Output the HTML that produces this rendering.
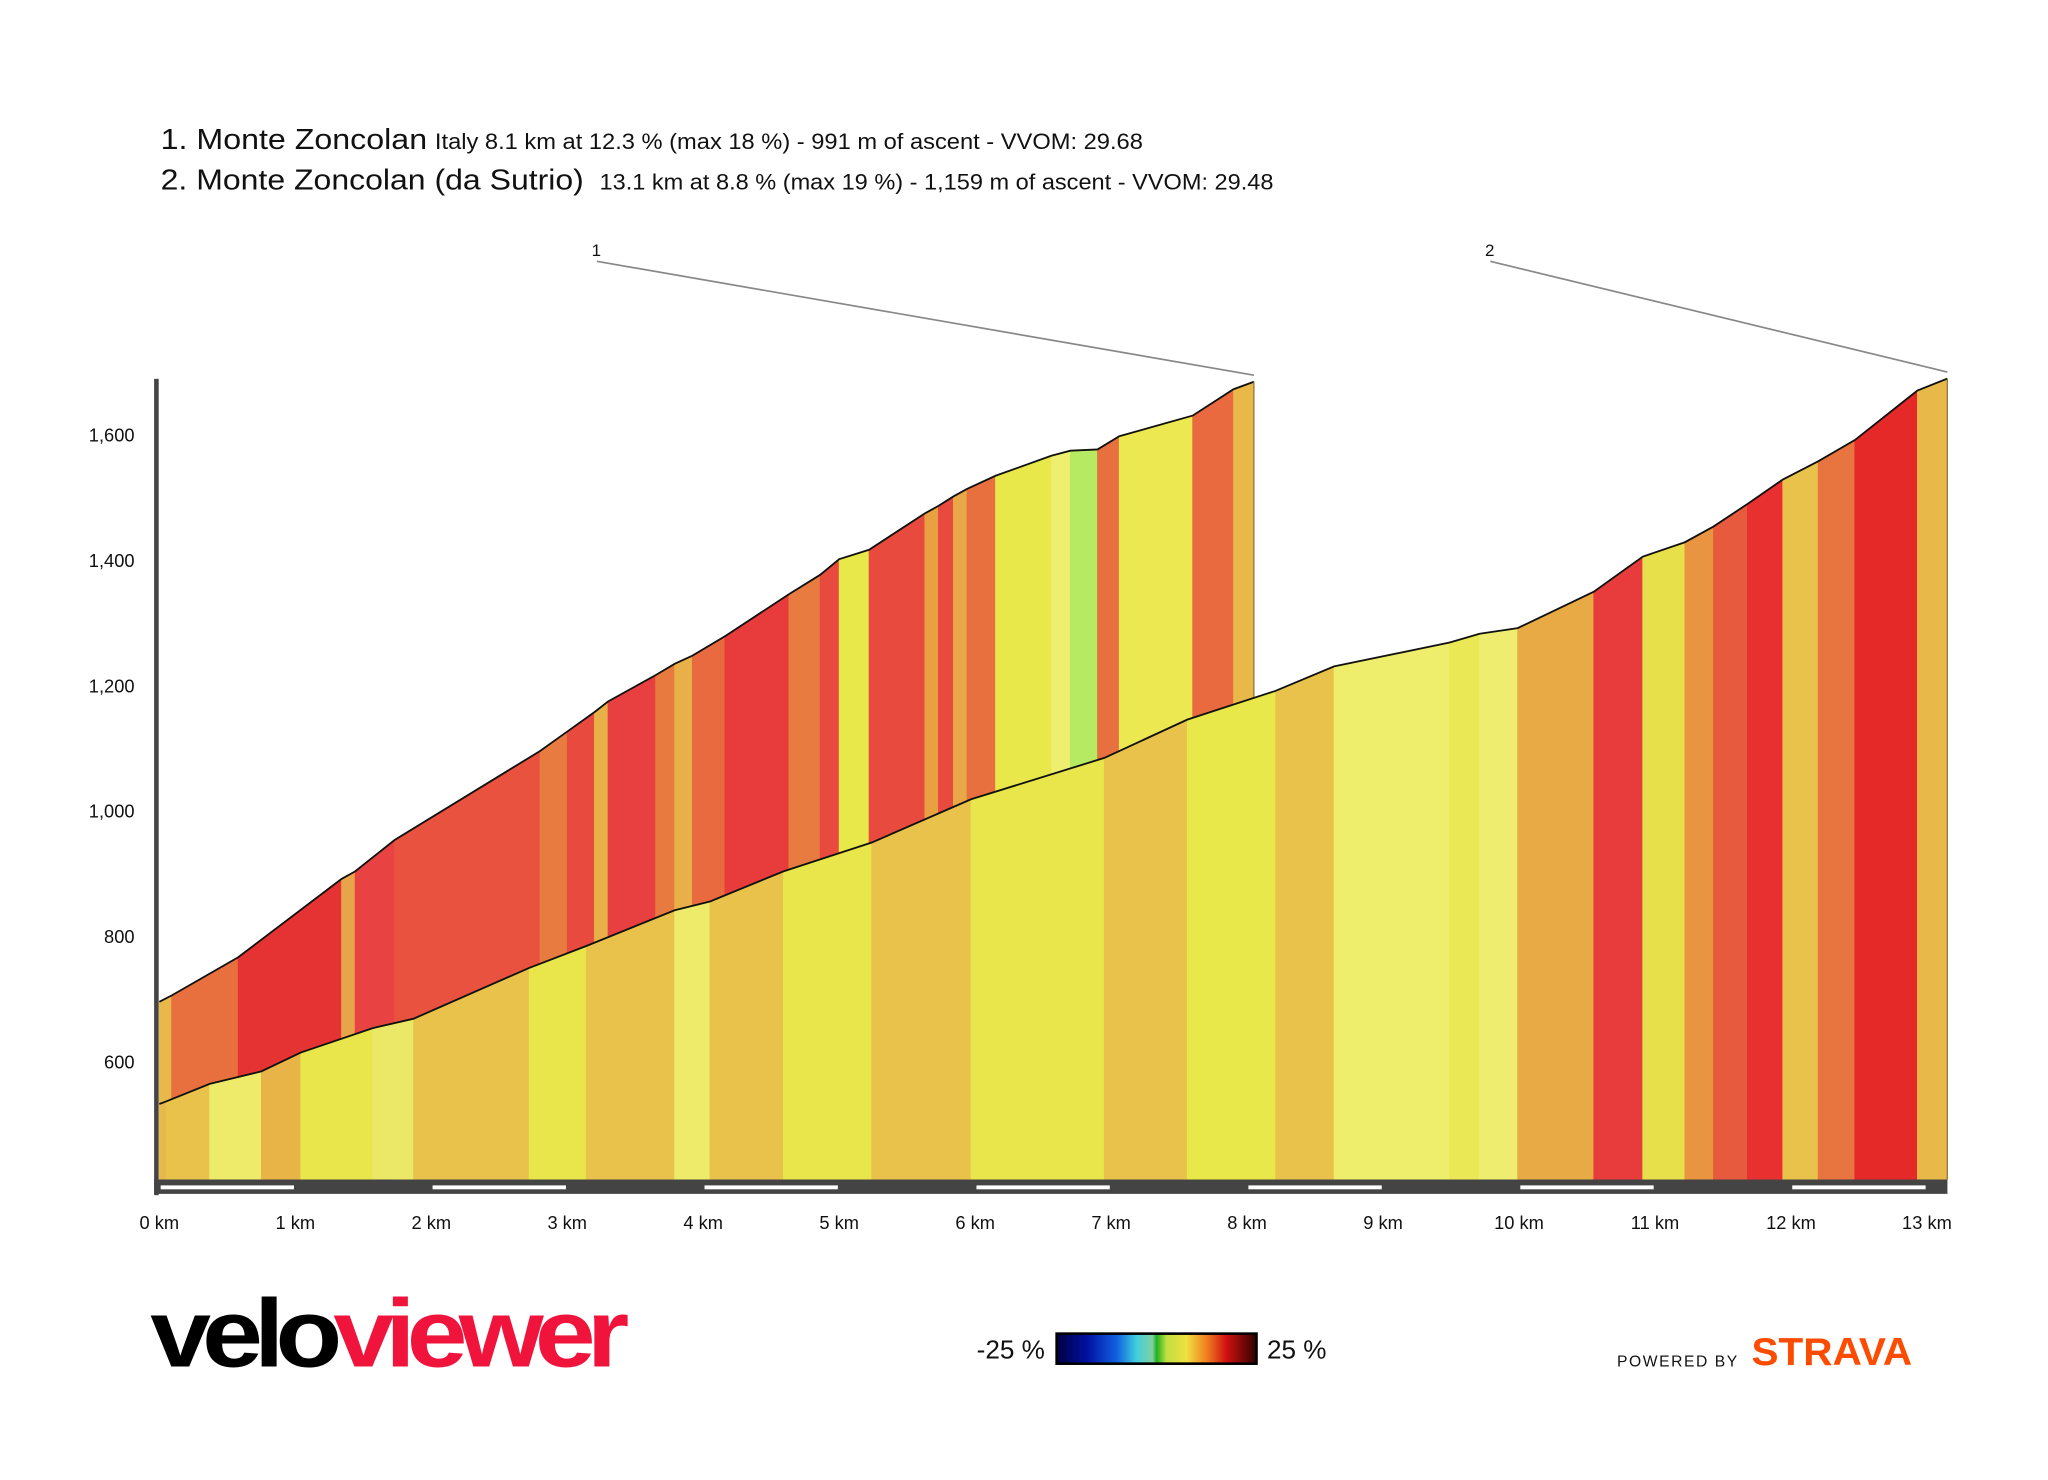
<!DOCTYPE html>
<html><head><meta charset="utf-8"><title>Monte Zoncolan profiles</title>
<style>
html,body{margin:0;padding:0;background:#fff;}
svg{display:block;}
text{font-family:"Liberation Sans","DejaVu Sans",sans-serif;}
</style></head>
<body>
<svg id="chart" width="2048" height="1480" viewBox="0 0 1568 1133" xmlns="http://www.w3.org/2000/svg">
  <rect width="1568" height="1133" fill="#fff"/>
  <g>
    <text x="123" y="114" font-size="22" fill="#111" textLength="204" lengthAdjust="spacingAndGlyphs">1. Monte Zoncolan</text>
    <text x="333" y="114" font-size="17" fill="#111" textLength="542" lengthAdjust="spacingAndGlyphs">Italy 8.1 km at 12.3 % (max 18 %) - 991 m of ascent - VVOM: 29.68</text>
    <text x="123" y="145" font-size="22" fill="#111" textLength="324" lengthAdjust="spacingAndGlyphs">2. Monte Zoncolan (da Sutrio)</text>
    <text x="459" y="145" font-size="17" fill="#111" textLength="516" lengthAdjust="spacingAndGlyphs">13.1 km at 8.8 % (max 19 %) - 1,159 m of ascent - VVOM: 29.48</text>
  </g>
  <g id="climb1"></g>
  <g id="climb2"></g>
  <g id="axes"></g>
  <g id="callouts"></g>
  <g>
    <text x="115" y="1046" font-size="74" font-weight="bold" letter-spacing="-6" fill="#000" textLength="360" lengthAdjust="spacingAndGlyphs">velo<tspan fill="#f0143c">viewer</tspan></text>
  </g>
  <g>
    <defs>
      <linearGradient id="grad" x1="0" x2="1" y1="0" y2="0">
        <stop offset="0" stop-color="#000040"/>
        <stop offset="0.15" stop-color="#0010a0"/>
        <stop offset="0.3" stop-color="#1060e0"/>
        <stop offset="0.4" stop-color="#40d0e0"/>
        <stop offset="0.48" stop-color="#80d0a0"/>
        <stop offset="0.5" stop-color="#20b020"/>
        <stop offset="0.55" stop-color="#c0e040"/>
        <stop offset="0.65" stop-color="#f0e040"/>
        <stop offset="0.75" stop-color="#f08020"/>
        <stop offset="0.85" stop-color="#d01010"/>
        <stop offset="1" stop-color="#300000"/>
      </linearGradient>
    </defs>
    <text x="800" y="1040" font-size="20" text-anchor="end" fill="#111">-25 %</text>
    <rect x="809" y="1021" width="153" height="23" fill="url(#grad)" stroke="#000" stroke-width="2"/>
    <text x="970" y="1040" font-size="20" fill="#111">25 %</text>
  </g>
  <g>
    <text x="1238" y="1046" font-size="12" letter-spacing="1.2" fill="#111">POWERED BY</text>
    <text x="1341" y="1045" font-size="30" font-weight="bold" fill="#fc4c02" textLength="123" lengthAdjust="spacingAndGlyphs">STRAVA</text>
  </g>
</svg>
<script>
const climb1Km =   [0, 0.09, 0.58, 1.34, 1.44, 1.73, 2.8, 3.0, 3.2, 3.3, 3.65, 3.79, 3.92, 4.16, 4.63, 4.86, 5.0, 5.22, 5.63, 5.73, 5.84, 5.94, 6.15, 6.56, 6.7, 6.9, 7.06, 7.6, 7.9, 8.05];
const climb1Elev = [696, 706, 767, 892, 904, 954, 1096, 1127, 1158, 1175, 1217, 1235, 1248, 1279, 1346, 1377, 1402, 1417, 1475, 1487, 1502, 1514, 1535, 1567, 1575, 1577, 1598, 1631, 1673, 1685];
const climb1Colors = ["#e8b84a","#e8703f","#e53232","#e8a448","#e84242","#e8523e","#e87c40","#e84a3e","#e8b048","#e84040","#e87a40","#e8b048","#e86a3e","#e83c3c","#e87c40","#e84a3e","#e8e84a","#e84a3e","#e8a040","#e84a3e","#e8a848","#e8703f","#e8e84a","#eeee70","#b5ea62","#e8703f","#ebe852","#e86a3e","#e8b848"];
const climb2Km =   [0, 0.05, 0.37, 0.75, 1.04, 1.57, 1.87, 2.72, 3.14, 3.79, 4.05, 4.59, 5.24, 5.97, 6.95, 7.56, 8.21, 8.64, 9.49, 9.71, 9.99, 10.55, 10.91, 11.22, 11.43, 11.68, 11.94, 12.2, 12.47, 12.93, 13.15];
const climb2Elev = [533, 537, 565, 585, 615, 654, 669, 750, 785, 842, 856, 904, 950, 1019, 1085, 1146, 1192, 1231, 1269, 1283, 1292, 1350, 1406, 1429, 1454, 1490, 1529, 1558, 1592, 1671, 1690];
const climb2Colors = ["#e8b84a","#e8c24a","#eeeb6a","#e8b448","#e8e64a","#ebe868","#e8c24a","#e8e64a","#e8c24a","#eeeb6a","#e8c24a","#e8e64a","#e8c24a","#e8e64a","#e8c24a","#e8e84a","#e8c24a","#eeed6c","#ebe855","#eeed70","#e8aa44","#e83c3c","#e8e04a","#e89440","#e85a3e","#e83030","#e8c24a","#e8743f","#e52828","#e8b848"];
const xTicks = [0,1,2,3,4,5,6,7,8,9,10,11,12,13];
const xTickLabels = ["0 km","1 km","2 km","3 km","4 km","5 km","6 km","7 km","8 km","9 km","10 km","11 km","12 km","13 km"];
const yTicks = [600, 800, 1000, 1200, 1400, 1600];
const yTickLabels = ["600","800","1,000","1,200","1,400","1,600"];
const calloutLabels = ["1","2"];

const NS = "http://www.w3.org/2000/svg";
const X0 = 122, PXKM = 104.1, Y600 = 813, PXM = 0.48, BOTTOM = 903;
function xs(km){ return X0 + km*PXKM; }
function ys(e){ return Y600 - (e-600)*PXM; }
function mk(tag, attrs, parent){ const el=document.createElementNS(NS,tag); for(const k in attrs) el.setAttribute(k,attrs[k]); parent.appendChild(el); return el; }

function drawClimb(gid, kms, elevs, colors, name){
  const g = document.getElementById(gid);
  for(let i=0;i<kms.length-1;i++){
    const x1=xs(kms[i]), x2=xs(kms[i+1]), y1=ys(elevs[i]), y2=ys(elevs[i+1]);
    const p = mk('polygon',{points:`${x1},${y1} ${x2},${y2} ${x2},${BOTTOM} ${x1},${BOTTOM}`, fill:colors[i], stroke:colors[i], 'stroke-width':0.6}, g);
    
    
  }
  const pts = kms.map((k,i)=>xs(k)+','+ys(elevs[i])).join(' ');
  const l = mk('polyline',{points:pts, fill:'none', stroke:'#111', 'stroke-width':1.4}, g);
  
  
  const last = kms.length-1;
  const e = mk('line',{x1:xs(kms[last]), y1:ys(elevs[last]), x2:xs(kms[last]), y2:BOTTOM, stroke:'#8a7a40', 'stroke-width':1}, g);
  
  
}
drawClimb('climb1', climb1Km, climb1Elev, climb1Colors, 'climb-1');
drawClimb('climb2', climb2Km, climb2Elev, climb2Colors, 'climb-2');

const ax = document.getElementById('axes');
const yAxis = mk('rect',{x:118, y:290, width:3.5, height:625, fill:'#444'}, ax);


const bar = mk('rect',{x:118, y:903, width:1373, height:11, fill:'#444'}, ax);


for(let i=0;i<13;i+=2){
  const d = mk('rect',{x:xs(xTicks[i])+1, y:907.5, width:PXKM-2, height:3, fill:'#fff'}, ax);
  
  
}
xTicks.forEach((k,i)=>{
  const t = mk('text',{x:xs(k), y:941, 'font-size':14, 'text-anchor':'middle', fill:'#111'}, ax);
  t.textContent = xTickLabels[i];
  
  
});
yTicks.forEach((v,i)=>{
  const t = mk('text',{x:103, y:ys(v)+5, 'font-size':14, 'text-anchor':'end', fill:'#111'}, ax);
  t.textContent = yTickLabels[i];
  
  
});

const co = document.getElementById('callouts');
const ends = [[climb1Km, climb1Elev, 457], [climb2Km, climb2Elev, 1141]];
ends.forEach((c,i)=>{
  const n=c[0].length-1;
  const t = mk('text',{x:c[2]-4, y:196, 'font-size':13, fill:'#111'}, co);
  t.textContent = calloutLabels[i];
  
  
  const l = mk('line',{x1:c[2], y1:200, x2:xs(c[0][n]), y2:ys(c[1][n])-5, stroke:'#888', 'stroke-width':1.3}, co);
  
  
});
</script>
</body></html>
